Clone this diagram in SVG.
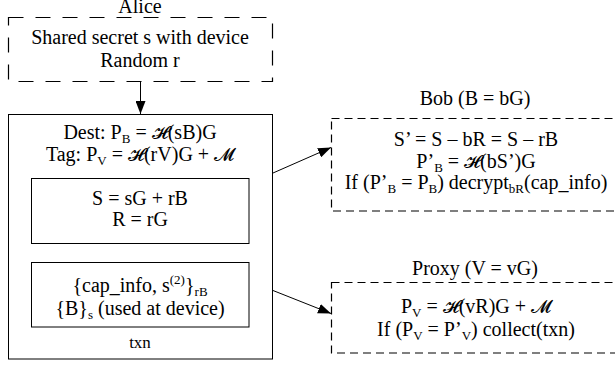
<svg xmlns="http://www.w3.org/2000/svg" width="615" height="366" viewBox="0 0 615 366">
<style>
text{font-family:"Liberation Serif","Times New Roman",serif;font-size:20px;fill:#000;text-anchor:middle}
.s{font-size:13px}
.m{font-family:"DejaVu Serif","DejaVu Sans","Noto Sans",serif;font-weight:normal;font-size:18px}
.dl{fill:none;stroke:#000;stroke-width:1.2;stroke-dasharray:15,12}
.ds{fill:none;stroke:#000;stroke-width:1.2;stroke-dasharray:8,5}
.sol{fill:none;stroke:#000;stroke-width:1}
.c{stroke:#000;stroke-width:1;fill:none;marker-end:url(#ah)}
</style>
<defs>
<marker id="ah" markerUnits="userSpaceOnUse" markerWidth="14" markerHeight="10" refX="13" refY="5" orient="auto">
<path d="M0,0 L13,5 L0,10 Z" fill="#000"/>
</marker>
</defs>
<g id="alice">
<text x="140" y="13">Alice</text>
<rect class="dl" x="8.5" y="17.5" width="264" height="64"/>
<text x="140" y="44">Shared secret s with device</text>
<text x="140" y="67">Random r</text>
</g>
<g id="txn">
<rect class="sol" x="8.5" y="114.5" width="264" height="244.5"/>
<text x="140" y="139">Dest: P<tspan class="s" dy="4">B</tspan><tspan dy="-4"> = </tspan><tspan class="m">𝓗</tspan>(sB)G</text>
<text x="140" y="161">Tag: P<tspan class="s" dy="4">V</tspan><tspan dy="-4"> = </tspan><tspan class="m">𝓗</tspan>(rV)G + <tspan class="m">𝓜</tspan></text>
<text x="140" y="348" style="font-size:17px">txn</text>
</g>
<g id="keys">
<rect class="sol" x="31.5" y="178.5" width="217.5" height="65"/>
<text x="140" y="205">S = sG + rB</text>
<text x="140" y="226">R = rG</text>
</g>
<g id="payload">
<rect class="sol" x="31.5" y="262.5" width="217.5" height="64.5"/>
<text x="140" y="292">{cap_info, s<tspan class="s" dy="-8">(2)</tspan><tspan dy="8">}</tspan><tspan class="s" dy="4">rB</tspan></text>
<text x="140" y="315">{B}<tspan class="s" dy="4">s</tspan><tspan dy="-4"> (used at device)</tspan></text>
</g>
<g id="bob">
<text x="475" y="105">Bob (B = bG)</text>
<rect class="ds" x="331.5" y="118.5" width="290" height="92.5"/>
<text x="476" y="146">S’ = S – bR = S – rB</text>
<text x="476" y="168">P’<tspan class="s" dy="4">B</tspan><tspan dy="-4"> = </tspan><tspan class="m">𝓗</tspan>(bS’)G</text>
<text x="476" y="189">If (P’<tspan class="s" dy="4">B</tspan><tspan dy="-4"> = P</tspan><tspan class="s" dy="4">B</tspan><tspan dy="-4">) decrypt</tspan><tspan class="s" dy="4">bR</tspan><tspan dy="-4">(cap_info)</tspan></text>
</g>
<g id="proxy">
<text x="475" y="275">Proxy (V = vG)</text>
<rect class="ds" x="331.5" y="282.5" width="290" height="70.5"/>
<text x="476" y="313">P<tspan class="s" dy="4">V</tspan><tspan dy="-4"> = </tspan><tspan class="m">𝓗</tspan>(vR)G + <tspan class="m">𝓜</tspan></text>
<text x="476" y="336">If (P<tspan class="s" dy="4">V</tspan><tspan dy="-4"> = P’</tspan><tspan class="s" dy="4">V</tspan><tspan dy="-4">) collect(txn)</tspan></text>
</g>
<g id="connectors">
<path class="c" d="M140.5,81.5 V114"/>
<path class="c" d="M273,173 L331,147.5"/>
<path class="c" d="M273,290.5 L331,313.5"/>
</g>
</svg>
